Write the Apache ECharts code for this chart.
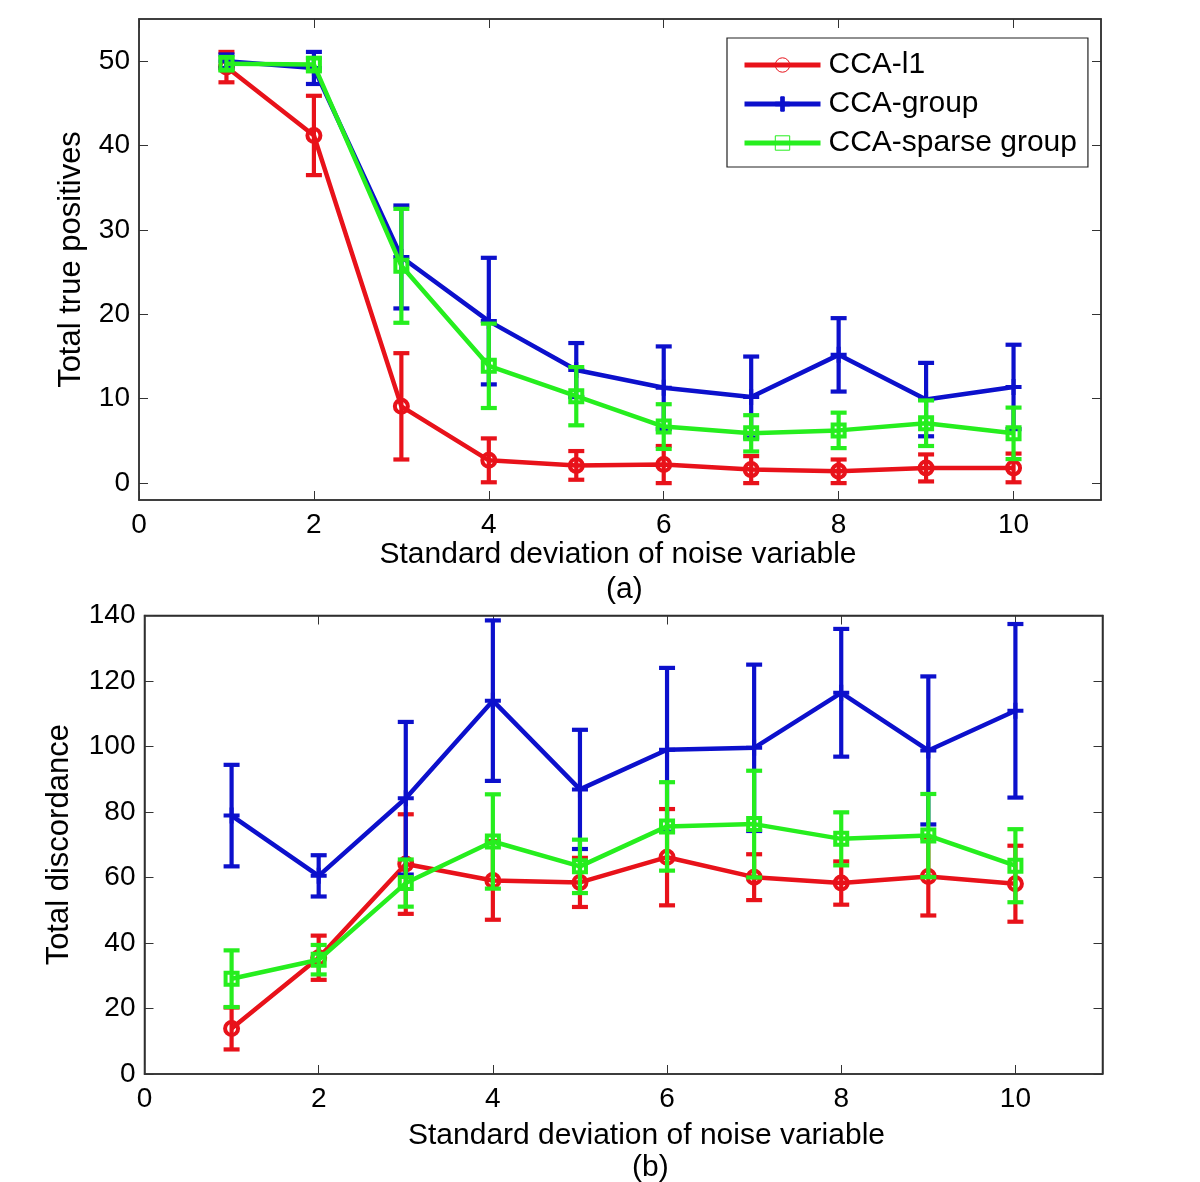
<!DOCTYPE html>
<html>
<head>
<meta charset="utf-8">
<script src="https://cdn.jsdelivr.net/npm/echarts@6/dist/echarts.min.js"></script>
<style>
html,body{margin:0;padding:0;background:#fff;}
#chart{width:1200px;height:1182px;}
</style>
</head>
<body>
<div id="chart"></div>
<script>
// ---------- data ----------
const xValues = [1, 2, 3, 4, 5, 6, 7, 8, 9, 10];
const xTicks = [0, 2, 4, 6, 8, 10];
const yTicksA = [0, 10, 20, 30, 40, 50];
const yTicksB = [0, 20, 40, 60, 80, 100, 120, 140];
const seriesNames = ['CCA-l1', 'CCA-group', 'CCA-sparse group'];

// (a) Total true positives: mean and error half-width
const tpL1 = [49.3, 41.2, 9.1, 2.7, 2.1, 2.2, 1.6, 1.4, 1.8, 1.8];
const tpL1Err = [1.8, 4.7, 6.3, 2.6, 1.7, 2.2, 1.6, 1.4, 1.6, 1.7];
const tpGroup = [50.0, 49.2, 26.8, 19.2, 13.4, 11.3, 10.2, 15.2, 9.9, 11.4];
const tpGroupErr = [0.8, 1.9, 6.1, 7.5, 3.2, 4.9, 4.8, 4.35, 4.35, 5.0];
const tpSparse = [49.7, 49.6, 25.75, 13.9, 10.3, 6.7, 5.9, 6.25, 7.1, 5.9];
const tpSparseErr = [0.8, 0.8, 6.75, 5.0, 3.45, 2.65, 2.15, 2.1, 2.7, 3.05];

// (b) Total discordance: mean and error half-width
const tdL1 = [13.9, 35.5, 64.1, 59.1, 58.5, 66.2, 60.1, 58.3, 60.3, 58.1];
const tdL1Err = [6.4, 6.75, 15.2, 12.0, 7.5, 14.7, 7.0, 6.6, 11.9, 11.6];
const tdGroup = [78.9, 60.5, 84.2, 114.0, 86.9, 99.0, 99.6, 116.4, 98.8, 110.9];
const tdGroupErr = [15.5, 6.3, 23.3, 24.5, 18.2, 25.0, 25.4, 19.5, 22.6, 26.5];
const tdSparse = [29.1, 34.9, 58.3, 71.0, 63.4, 75.6, 76.3, 71.8, 72.8, 63.6];
const tdSparseErr = [8.65, 4.5, 7.2, 14.4, 8.15, 13.5, 16.3, 8.1, 12.7, 11.15];

// ---------- styles ----------
const FONT = 'Liberation Sans, Arial, Helvetica, sans-serif';
const COLORS = ['#e8121a', '#0c10cc', '#26ee1e'];
const PLUS = 'path://M3.75,0 H6.25 V3.75 H10 V6.25 H6.25 V10 H3.75 V6.25 H0 V3.75 H3.75 Z';
const symbols = [
  {symbol: 'circle', symbolSize: 13, itemStyle: {color: 'rgba(0,0,0,0)', borderWidth: 4}},
  {symbol: PLUS, symbolSize: 16, itemStyle: {borderWidth: 0}},
  {symbol: 'rect', symbolSize: 12, itemStyle: {color: 'rgba(0,0,0,0)', borderWidth: 4}}
];

function pairs(vals) { return xValues.map((x, i) => [x, vals[i]]); }
function errData(vals, errs) { return xValues.map((x, i) => [x, vals[i] - errs[i], vals[i] + errs[i]]); }

function errRender(color) {
  return function (params, api) {
    const x = api.value(0);
    const lo = api.coord([x, api.value(1)]);
    const hi = api.coord([x, api.value(2)]);
    const hw = 8;
    const style = {stroke: color, lineWidth: 4.2, fill: null};
    return {
      type: 'group',
      children: [
        {type: 'line', shape: {x1: lo[0], y1: lo[1], x2: hi[0], y2: hi[1]}, style: style},
        {type: 'line', shape: {x1: lo[0] - hw, y1: lo[1], x2: lo[0] + hw, y2: lo[1]}, style: style},
        {type: 'line', shape: {x1: hi[0] - hw, y1: hi[1], x2: hi[0] + hw, y2: hi[1]}, style: style}
      ]
    };
  };
}

function makeSeries(gridIdx, means, errs) {
  const out = [];
  means.forEach((m, k) => {
    out.push({
      type: 'custom', name: seriesNames[k] + ' err',
      xAxisIndex: gridIdx * 2, yAxisIndex: gridIdx * 2,
      renderItem: errRender(COLORS[k]),
      data: errData(m, errs[k]), z: 2 + k * 2, silent: true
    });
    const s = symbols[k];
    out.push({
      type: 'line', name: seriesNames[k],
      xAxisIndex: gridIdx * 2, yAxisIndex: gridIdx * 2,
      data: pairs(m), z: 3 + k * 2,
      symbol: s.symbol, symbolSize: s.symbolSize, showSymbol: true,
      lineStyle: {color: COLORS[k], width: 4.5},
      itemStyle: Object.assign({}, s.itemStyle, {borderColor: COLORS[k], color: s.itemStyle.color || COLORS[k]}),
      animation: false
    });
  });
  return out;
}

const tickLabel = {color: '#000', fontFamily: FONT, fontSize: 28};
const yNameStyle = {color: '#000', fontFamily: FONT, fontSize: 31};
const tickStyle = {color: '#333', width: 1};

function xAxisPair(gridIdx, nameGap, shift) {
  return [
    {
      type: 'value', gridIndex: gridIdx, min: 0, max: 11, position: 'bottom',
      name: 'Standard deviation of noise variable', nameLocation: 'middle', nameGap: nameGap,
      nameTextStyle: {color: '#000', fontFamily: FONT, fontSize: 30,
        padding: shift >= 0 ? [0, 0, 0, 2 * shift] : [0, -2 * shift, 0, 0]},
      axisLine: {show: true, onZero: false, lineStyle: {color: '#333', width: 1.5}},
      axisTick: {show: true, inside: true, length: 9, customValues: xTicks, lineStyle: tickStyle},
      axisLabel: {show: true, margin: 11, customValues: xTicks, ...tickLabel},
      splitLine: {show: false}
    },
    {
      type: 'value', gridIndex: gridIdx, min: 0, max: 11, position: 'top',
      axisLine: {show: true, onZero: false, lineStyle: {color: '#333', width: 1.5}},
      axisTick: {show: true, inside: true, length: 9, customValues: xTicks, lineStyle: tickStyle},
      axisLabel: {show: false}, splitLine: {show: false}
    }
  ];
}
function yAxisPair(gridIdx, min, max, ticks, name, nameGap) {
  return [
    {
      type: 'value', gridIndex: gridIdx, min: min, max: max, position: 'left',
      name: name, nameLocation: 'middle', nameGap: nameGap, nameTextStyle: yNameStyle,
      axisLine: {show: true, onZero: false, lineStyle: {color: '#333', width: 1.5}},
      axisTick: {show: true, inside: true, length: 9, customValues: ticks, lineStyle: tickStyle},
      axisLabel: {show: true, margin: 9, customValues: ticks, ...tickLabel},
      splitLine: {show: false}
    },
    {
      type: 'value', gridIndex: gridIdx, min: min, max: max, position: 'right',
      axisLine: {show: true, onZero: false, lineStyle: {color: '#333', width: 1.5}},
      axisTick: {show: true, inside: true, length: 9, customValues: ticks, lineStyle: tickStyle},
      axisLabel: {show: false}, splitLine: {show: false}
    }
  ];
}

const chart = echarts.init(document.getElementById('chart'), null, {renderer: 'canvas'});
const option = {
  backgroundColor: '#fff',
  animation: false,
  grid: [
    {left: 139, top: 19, width: 962, height: 481, show: true, borderColor: '#333', borderWidth: 1.5, backgroundColor: '#fff'},
    {left: 144.5, top: 615.5, width: 958, height: 458.5, show: true, borderColor: '#222', borderWidth: 1.5, backgroundColor: '#fff'}
  ],
  xAxis: [...xAxisPair(0, 38, -2), ...xAxisPair(1, 47, 23)],
  yAxis: [...yAxisPair(0, -2, 55, yTicksA, 'Total true positives', 52),
          ...yAxisPair(1, 0, 140, yTicksB, 'Total discordance', 70)],
  legend: {
    data: seriesNames,
    orient: 'vertical', left: 727, top: 38,
    padding: [12, 11, 9, 15],
    itemWidth: 76, itemHeight: 18, itemGap: 9,
    backgroundColor: '#fff', borderColor: '#222', borderWidth: 1.2, borderRadius: 0,
    textStyle: {color: '#000', fontFamily: FONT, fontSize: 30, padding: [0, 0, 0, 3]},
    itemStyle: {borderWidth: 1},
    lineStyle: {width: 5},
    selectedMode: false
  },
  graphic: [
    {type: 'text', left: 606, top: 575, style: {text: '(a)', font: '30px ' + FONT, fill: '#000'}},
    {type: 'text', left: 632, top: 1153, style: {text: '(b)', font: '30px ' + FONT, fill: '#000'}}
  ],
  series: [
    ...makeSeries(0, [tpL1, tpGroup, tpSparse], [tpL1Err, tpGroupErr, tpSparseErr]),
    ...makeSeries(1, [tdL1, tdGroup, tdSparse], [tdL1Err, tdGroupErr, tdSparseErr])
  ]
};
chart.setOption(option);
</script>
</body>
</html>
